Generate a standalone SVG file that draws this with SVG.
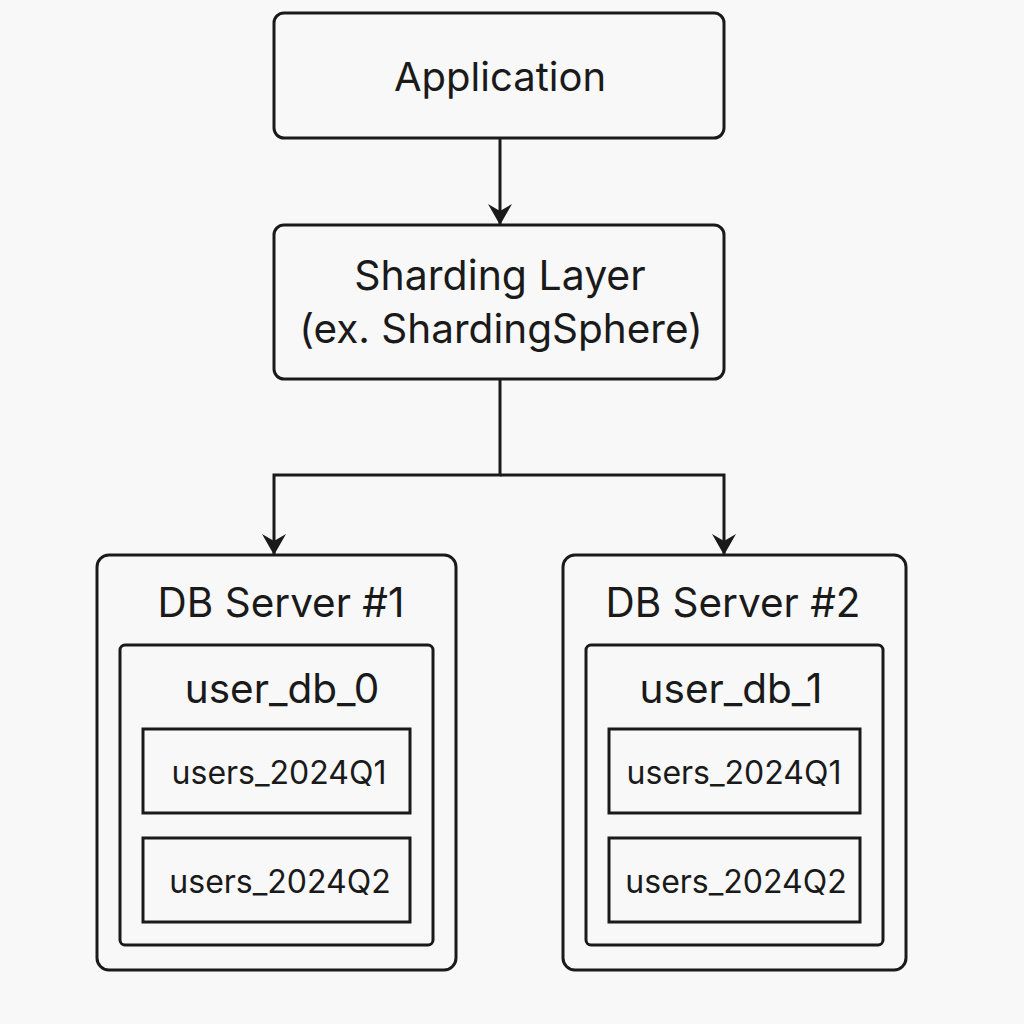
<svg xmlns="http://www.w3.org/2000/svg" width="1024" height="1024" viewBox="0 0 1024 1024">
<style>
.box{fill:none;stroke:#1a1a1a;stroke-width:3}
.t{font-family:Inter,"Liberation Sans",sans-serif;fill:#1a1a1a;text-anchor:middle}
.big{font-size:40.5px}
.sm{font-size:32px}
.conn{fill:none;stroke:#1a1a1a;stroke-width:3}
.head{fill:#1a1a1a}
</style>
<rect width="1024" height="1024" fill="#f8f8f8"/>
<g id="connectors">
<path class="conn" d="M500,138 V224"/>
<path class="conn" d="M500,379 V475 H274 V554"/>
<path class="conn" d="M500,475 H724 V554"/>
<path class="head" d="M488,204 L500,211 L512,204 L500,225 Z"/>
<path class="head" d="M262,534 L274,541 L286,534 L274,555 Z"/>
<path class="head" d="M712,534 L724,541 L736,534 L724,555 Z"/>
</g>
<g id="application">
<rect class="box" x="274" y="13" width="450" height="125" rx="10"/>
<text class="t" x="500" y="91" style="font-size:40px">Application</text>
</g>
<g id="sharding">
<rect class="box" x="274" y="225" width="450" height="154" rx="10"/>
<text class="t" x="500" y="290" style="font-size:41px">Sharding Layer</text>
<text class="t" x="501" y="343" style="font-size:40.5px">(ex. ShardingSphere)</text>
</g>
<g id="db1">
<rect class="box" x="97" y="555" width="359" height="415" rx="12"/>
<text class="t big" x="281" y="617">DB Server #1</text>
</g>
<g id="user_db_0">
<rect class="box" x="120" y="645" width="313" height="300" rx="5"/>
<text class="t big" x="282" y="703">user_db_0</text>
</g>
<g id="db0_q1">
<rect class="box" x="143" y="729" width="267" height="84"/>
<text class="t sm" x="279" y="784">users_2024Q1</text>
</g>
<g id="db0_q2">
<rect class="box" x="143" y="838" width="267" height="84"/>
<text class="t sm" x="280" y="893">users_2024Q2</text>
</g>
<g id="db2">
<rect class="box" x="563" y="555" width="343" height="415" rx="12"/>
<text class="t big" x="733" y="617">DB Server #2</text>
</g>
<g id="user_db_1">
<rect class="box" x="586" y="645" width="297" height="300" rx="5"/>
<text class="t big" x="731" y="703">user_db_1</text>
</g>
<g id="db1_q1">
<rect class="box" x="609" y="729" width="251" height="84"/>
<text class="t sm" x="734" y="784">users_2024Q1</text>
</g>
<g id="db1_q2">
<rect class="box" x="609" y="838" width="251" height="84"/>
<text class="t sm" x="736" y="893">users_2024Q2</text>
</g>
</svg>
